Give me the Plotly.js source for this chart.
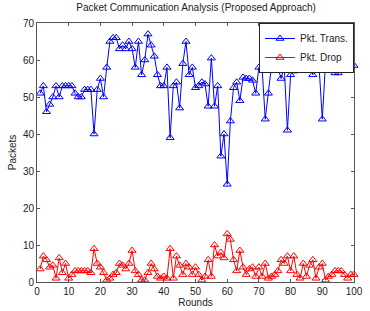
<!DOCTYPE html>
<html>
<head>
<meta charset="utf-8">
<script src="https://cdn.plot.ly/plotly-3.0.1.min.js"></script>
<style>
html,body{margin:0;padding:0;background:#fff;}
#chart{width:370px;height:311px;}
</style>
</head>
<body>
<div id="chart"></div>
<script>
var rounds = [];
for (var i = 1; i <= 100; i++) rounds.push(i);

var pktTrans = [51,53,46,48,50,53,50,53,53,53,
                53,51,50,50,52,52,52,40,52,55,
                50,58,65,66,66,63,64,63,65,63,
                58,65,56,60,67,64,61,56,53,53,
                58,39,53,54,47,59,65,56,58,52.5,
                53,54,53.5,47.5,60.5,47.5,53,34,40,26.4,
                43.5,52.5,54,49,55.3,55,55,54.5,51,58,
                58,44,51,58.7,59,58,55,58,41,56,
                57,58,60.7,61,61,61,56,61,58,44,
                59,58,58,56.5,56.5,58,59,58,59,58.5];

var pktDrop = [3.5,7,6,4,4.5,1,6.5,2.5,5,1,
               2,3,3,3,3,3,2.5,9,5,4,
               2.5,0.5,1,2,2.5,5,4.5,3.5,5,8.5,
               3,2,0.5,0.5,2.5,5,3.5,1.5,1,1.5,
               1,9,1,7,4.5,2,5,4,2,4,
               2,0.5,1.5,6,1.5,10,7,8,6.5,13,
               11.5,6,3,8.5,4,2,3.5,4,1.5,4,
               1.5,5,1,1.5,2,3,6,5,7,3,
               7,2,1,5,1.5,4.5,6,1,4,5,
               0.5,1.5,2,3,3,3,2,1,2,2];

var xTicks = [0,10,20,30,40,50,60,70,80,90,100];
var yTicks = [0,10,20,30,40,50,60,70];

var traces = [
  {x: rounds, y: pktTrans, name: 'Pkt. Trans.', type: 'scatter', mode: 'lines+markers',
   line: {color: '#0000FF', width: 1},
   marker: {symbol: 'triangle-up-open', size: 7, color: '#0000FF', line: {width: 1, color: '#0000FF'}},
   cliponaxis: false},
  {x: rounds, y: pktDrop, name: 'Pkt. Drop', type: 'scatter', mode: 'lines+markers',
   line: {color: '#FF0000', width: 1},
   marker: {symbol: 'triangle-up-open', size: 7, color: '#FF0000', line: {width: 1, color: '#FF0000'}},
   cliponaxis: false}
];

var axisFont = {family: 'Liberation Sans, Arial, sans-serif', size: 10, color: '#222'};

var layout = {
  width: 370, height: 311,
  paper_bgcolor: '#fff', plot_bgcolor: '#fff',
  margin: {l: 37, r: 16, t: 23, b: 29},
  showlegend: true,
  title: {text: 'Packet Communication Analysis (Proposed Approach)',
          font: {family: 'Liberation Sans, Arial, sans-serif', size: 10, color: '#222'},
          x: 0.53, xanchor: 'center', y: 0.975, yanchor: 'middle'},
  xaxis: {range: [0, 100], tickvals: xTicks, ticktext: xTicks.map(String),
          ticks: 'inside', ticklen: 3, tickcolor: '#555', showline: true, linecolor: '#555', linewidth: 1,
          mirror: 'ticks', showgrid: false, zeroline: false, tickfont: axisFont,
          title: {text: 'Rounds', font: axisFont, standoff: 2}},
  yaxis: {range: [0, 70], tickvals: yTicks, ticktext: yTicks.map(String),
          ticks: 'inside', ticklen: 3, tickcolor: '#555', showline: true, linecolor: '#555', linewidth: 1,
          mirror: 'ticks', showgrid: false, zeroline: false, tickfont: axisFont,
          title: {text: 'Packets', font: axisFont, standoff: 4}},
  legend: {x: 1, xanchor: 'right', y: 1, yanchor: 'top',
           bgcolor: '#fff', bordercolor: '#222', borderwidth: 1,
           font: {family: 'Liberation Sans, Arial, sans-serif', size: 10, color: '#222'},
           tracegroupgap: 0, itemwidth: 30}
};

Plotly.newPlot('chart', traces, layout, {displayModeBar: false, staticPlot: true});
</script>
</body>
</html>
